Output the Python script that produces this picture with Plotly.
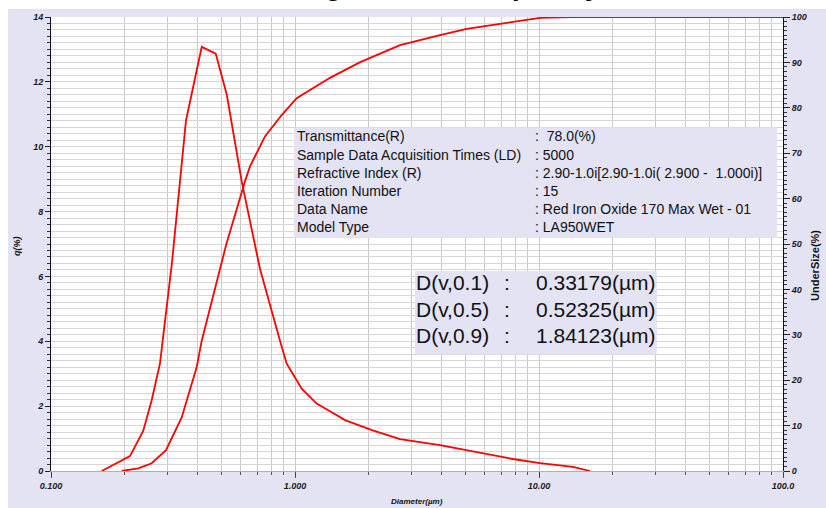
import plotly.graph_objects as go

# ---------------- data ----------------
freq_diam = [0.1614, 0.2108, 0.2389, 0.2586, 0.2797, 0.3131, 0.3575, 0.4147, 0.4732,
             0.5251, 0.6047, 0.7188, 0.8680, 0.9247, 1.0653, 1.2270, 1.3912, 1.6027,
             2.0685, 2.6937, 3.9292, 5.8960, 7.8245, 10.095, 13.783, 16.18]
freq_q = [0.00, 0.46, 1.24, 2.18, 3.32, 6.42, 10.81, 13.08, 12.87,
          11.61, 8.93, 6.23, 4.02, 3.31, 2.54, 2.08, 1.84, 1.57,
          1.26, 0.98, 0.80, 0.55, 0.37, 0.24, 0.13, 0.00]

cum_diam = [0.1949, 0.2280, 0.2586, 0.2960, 0.3433, 0.3956, 0.4147, 0.5233, 0.6238,
            0.6540, 0.7534, 0.8820, 1.0162, 1.3912, 1.8412, 2.6937, 3.9292, 5.054,
            6.922, 10.095, 13.40, 100.0]
cum_under = [0.0, 0.6, 1.7, 4.6, 11.8, 22.9, 28.7, 50.0, 63.8,
             67.1, 73.7, 78.4, 82.1, 86.6, 90.0, 93.8, 96.0, 97.4,
             98.5, 99.8, 100.0, 100.0]

x_tickvals = [0.1, 1, 10, 100]
x_ticktext = ["0.100", "1.000", "10.00", "100.0"]
x_minor = [m * 10 ** e for e in (-1, 0, 1) for m in range(2, 10)]

info_labels = ["Transmittance(R)", "Sample Data Acquisition Times (LD)", "Refractive Index (R)",
               "Iteration Number", "Data Name", "Model Type"]
info_values = ["\u00a078.0(%)", "5000", "2.90-1.0i[2.90-1.0i(\u00a02.900\u00a0-\u00a0\u00a01.000i)]",
               "15", "Red Iron Oxide 170 Max Wet - 01", "LA950WET"]

d_labels = ["D(v,0.1)", "D(v,0.5)", "D(v,0.9)"]
d_values = ["0.33179(\u00b5m)", "0.52325(\u00b5m)", "1.84123(\u00b5m)"]

title_text = "Histogram and Frequency"

# ---------------- layout helpers ----------------
W, H = 826, 508
L, R, T, B = 51, 783, 15, 471
PW, PH = R - L, B - T


def px(x):
    return (x - L) / PW


def py(y):
    return (B - y) / PH


LAV = "#E3E3F3"
RED = "#FF0000"
tickfont = dict(family="Arial", size=9, color="#1a1a1a", weight="bold", style="italic")

fig = go.Figure()
fig.add_trace(go.Scatter(x=freq_diam, y=freq_q, mode="lines",
                         line=dict(color=RED, width=1.8), yaxis="y", showlegend=False,
                         hoverinfo="skip"))
fig.add_trace(go.Scatter(x=cum_diam, y=cum_under, mode="lines",
                         line=dict(color=RED, width=1.8), yaxis="y2", showlegend=False,
                         hoverinfo="skip"))

shapes = [
    dict(type="rect", xref="paper", yref="paper", layer="below",
         x0=px(8), x1=px(W + 2), y0=py(H + 2), y1=py(7),
         fillcolor=LAV, line=dict(width=0)),
    dict(type="rect", xref="paper", yref="paper", layer="below",
         x0=0, x1=1, y0=0, y1=1, fillcolor="white", line=dict(width=0)),
    dict(type="rect", xref="paper", yref="paper", layer="above",
         x0=px(294), x1=px(777), y0=py(237), y1=py(126),
         fillcolor=LAV, line=dict(width=0)),
    dict(type="rect", xref="paper", yref="paper", layer="above",
         x0=px(415), x1=px(657), y0=py(354), y1=py(270),
         fillcolor=LAV, line=dict(width=0)),
]

annotations = []
# title (mostly above the visible window; only descenders show)
annotations.append(dict(text=title_text, xref="paper", yref="paper", x=px(428), y=py(0.5),
                        xanchor="center", yanchor="bottom", showarrow=False,
                        font=dict(family="Arial", size=28, color="black", weight="bold")))
# axis titles
annotations.append(dict(text="q(%)", xref="paper", yref="paper", x=px(17), y=py(245),
                        textangle=-90, showarrow=False, xanchor="center", yanchor="middle",
                        font=dict(family="Arial", size=9, color="#111", weight="bold",
                                  style="italic")))
annotations.append(dict(text="UnderSize(%)", xref="paper", yref="paper", x=px(815), y=py(265),
                        textangle=-90, showarrow=False, xanchor="center", yanchor="middle",
                        font=dict(family="Arial", size=11, color="#111", weight="bold")))
annotations.append(dict(text="Diameter(\u00b5m)", xref="paper", yref="paper", x=px(417), y=py(502),
                        showarrow=False, xanchor="center", yanchor="middle",
                        font=dict(family="Arial", size=8, color="#111", weight="bold",
                                  style="italic")))

info_font = dict(family="Arial", size=14, color="#111")
row_y = [135, 153.3, 171.7, 190, 207.7, 226]
for lab, val, yy in zip(info_labels, info_values, row_y):
    annotations.append(dict(text=lab, xref="paper", yref="paper", x=px(295), y=py(yy),
                            xanchor="left", yanchor="middle", showarrow=False, font=info_font))
    annotations.append(dict(text=":\u00a0" + val, xref="paper", yref="paper", x=px(533), y=py(yy),
                            xanchor="left", yanchor="middle", showarrow=False, font=info_font))

d_font = dict(family="Arial", size=21, color="#111")
d_row_y = [282, 308.5, 335]
for lab, val, yy in zip(d_labels, d_values, d_row_y):
    annotations.append(dict(text=lab, xref="paper", yref="paper", x=px(414), y=py(yy),
                            xanchor="left", yanchor="middle", showarrow=False, font=d_font))
    annotations.append(dict(text=":", xref="paper", yref="paper", x=px(507), y=py(yy),
                            xanchor="center", yanchor="middle", showarrow=False, font=d_font))
    annotations.append(dict(text=val, xref="paper", yref="paper", x=px(534), y=py(yy),
                            xanchor="left", yanchor="middle", showarrow=False, font=d_font))

fig.update_layout(
    width=W, height=H,
    margin=dict(l=L, r=W - R, t=T, b=H - B, pad=0),
    paper_bgcolor="white",
    plot_bgcolor="white",
    showlegend=False,
    shapes=shapes,
    annotations=annotations,
    xaxis=dict(type="log", range=[-1, 2], tickmode="array", tickvals=x_tickvals,
               ticktext=x_ticktext, ticks="outside", ticklen=6, tickwidth=1, tickcolor="#444",
               showgrid=True, gridcolor="#C9C9C9", gridwidth=1, zeroline=False,
               showline=True, linecolor="#B0B0B0", linewidth=1,
               tickfont=tickfont,
               minor=dict(tickmode="array", tickvals=x_minor, ticks="outside", ticklen=3,
                          tickcolor="#555", showgrid=True, gridcolor="#C9C9C9", gridwidth=1)),
    yaxis=dict(range=[0, 14], tickmode="array", tickvals=list(range(0, 15, 2)),
               ticks="outside", ticklen=5, tickcolor="#222", tickfont=tickfont,
               showgrid=True, gridcolor="#D6D6D6", zeroline=False,
               showline=True, linecolor="#111", linewidth=1,
               minor=dict(dtick=0.2, ticks="outside", ticklen=3, tickcolor="#333",
                          showgrid=True, gridcolor="#D6D6D6", gridwidth=1)),
    yaxis2=dict(range=[0, 100], overlaying="y", side="right", tickmode="linear", tick0=0,
                dtick=10, ticks="outside", ticklen=6, tickcolor="#222", tickfont=tickfont,
                showgrid=False, zeroline=False, showline=True, linecolor="#111", linewidth=1,
                minor=dict(dtick=1, ticks="outside", ticklen=3, tickcolor="#333", showgrid=False)),
)

fig.write_html(
    "out.html",
    config={"displayModeBar": False},
    post_script="document.body.style.margin='0px';document.body.style.overflow='hidden';",
)
